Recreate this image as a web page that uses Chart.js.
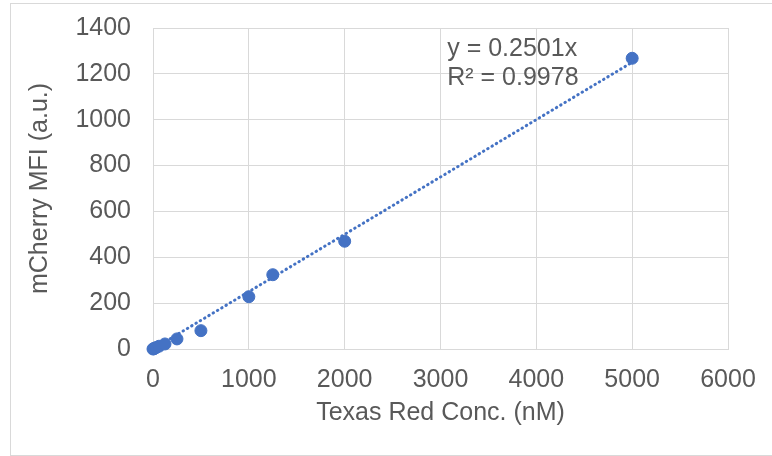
<!DOCTYPE html>
<html>
<head>
<meta charset="utf-8">
<script src="https://cdn.jsdelivr.net/npm/chart.js@4.4.0/dist/chart.umd.min.js"></script>
<style>
  html, body { margin: 0; padding: 0; background: #fff; }
  #wrap { position: relative; width: 772px; height: 456px; }
</style>
</head>
<body>
<div id="wrap"><canvas id="chart" width="772" height="456"></canvas></div>
<script>
// measured points (Texas Red conc. in nM vs mCherry MFI)
const concNM = [0, 7.8, 15.6, 31.25, 62.5, 125, 250, 500, 1000, 1250, 2000, 5000];
const mfi    = [0, 1, 3, 6, 12, 22, 44, 80, 228, 324, 470, 1268];

// linear trendline through origin
const trendX = [0, 5000];
const trendY = [0, 1250.5];
const trendLabel = ['y = 0.2501x', 'R\u00b2 = 0.9978'];

const xTicks = [0, 1000, 2000, 3000, 4000, 5000, 6000];
const yTicks = [0, 200, 400, 600, 800, 1000, 1200, 1400];

const GRID = '#d9d9d9';
const TEXT = '#595959';
const BLUE = '#4472C4';
const FONT = { family: 'Liberation Sans, Arial, sans-serif', size: 25 };

// outer frame + equation label
const extras = {
    id: 'extras',
    beforeDraw(chart) {
        const c = chart.ctx;
        c.save();
        c.fillStyle = '#fff';
        c.fillRect(0, 0, chart.width, chart.height);
        c.strokeStyle = GRID;
        c.lineWidth = 1;
        c.strokeRect(10.5, 3.5, chart.width - 10, chart.height - 4);
        c.restore();
    },
    afterDatasetsDraw(chart) {
        const c = chart.ctx;
        const xs = chart.scales.x, ys = chart.scales.y;
        c.save();
        c.font = FONT.size + 'px ' + FONT.family;
        c.fillStyle = TEXT;
        c.textBaseline = 'middle';
        c.fillText(trendLabel[0], xs.getPixelForValue(3070), ys.getPixelForValue(1310));
        c.fillText(trendLabel[1], xs.getPixelForValue(3070), ys.getPixelForValue(1180));
        c.restore();
    }
};

new Chart(document.getElementById('chart'), {
    type: 'scatter',
    data: {
        datasets: [{
            label: 'Trendline',
            type: 'line',
            data: trendX.map((x, i) => ({ x, y: trendY[i] })),
            borderColor: BLUE,
            borderWidth: 3,
            borderDash: [0.5, 4.5],
            borderCapStyle: 'round',
            pointRadius: 0,
            fill: false,
            clip: false,
            order: 2
        }, {
            label: 'MFI',
            data: concNM.map((x, i) => ({ x, y: mfi[i] })),
            backgroundColor: BLUE,
            borderColor: BLUE,
            pointRadius: 6,
            pointHoverRadius: 6,
            clip: false,
            order: 1
        }]
    },
    options: {
        responsive: false,
        animation: false,
        layout: { padding: { left: 0, top: 28, right: 44, bottom: 0 } },
        plugins: { legend: { display: false }, tooltip: { enabled: false } },
        scales: {
            x: {
                type: 'linear', min: 0, max: 6000,
                afterBuildTicks: s => { s.ticks = xTicks.map(v => ({ value: v })); },
                afterFit: s => { s.height = 107; s.paddingLeft = 0; s.paddingRight = 0; },
                grid: { color: GRID, drawTicks: false },
                border: { color: GRID },
                ticks: { color: TEXT, font: FONT, padding: 16, maxRotation: 0, callback: v => String(v) },
                title: { display: true, text: 'Texas Red Conc. (nM)', color: TEXT, font: FONT, padding: { top: 0, bottom: 28 } }
            },
            y: {
                type: 'linear', min: 0, max: 1400,
                afterBuildTicks: s => { s.ticks = yTicks.map(v => ({ value: v })); },
                afterFit: s => { s.width = 153; s.paddingTop = 0; s.paddingBottom = 0; },
                grid: { color: GRID, drawTicks: false },
                border: { color: GRID },
                ticks: { color: TEXT, font: FONT, padding: 22, callback: v => String(v) },
                title: { display: true, text: 'mCherry MFI (a.u.)', color: TEXT, font: FONT, padding: { top: 25, bottom: 0 } }
            }
        }
    },
    plugins: [extras]
});
</script>
</body>
</html>
